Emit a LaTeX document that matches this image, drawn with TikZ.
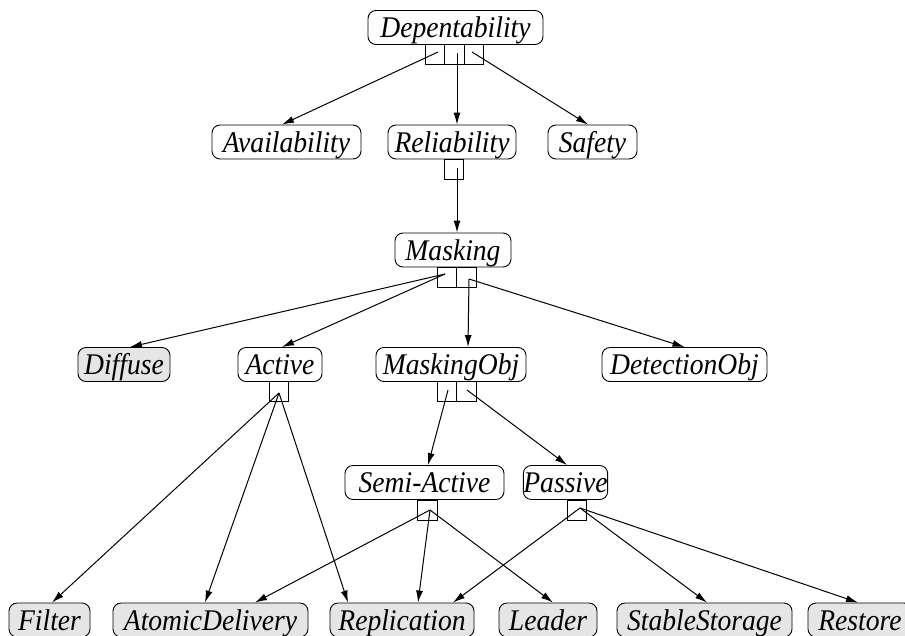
\documentclass[tikz,border=0pt]{standalone}
\usepackage{fontspec}
\setmainfont{Liberation Serif}[FakeStretch=0.92]
\usetikzlibrary{arrows.meta}
\begin{document}
\begin{tikzpicture}[x=1pt,y=-1pt,
  box/.style={draw, rounded corners=8pt, line width=0.9pt, inner sep=0pt, minimum height=34pt,
    font=\itshape\fontsize{30}{32}\selectfont, text height=27pt, text depth=7pt},
  leaf/.style={box, fill=black!10},
  port/.style={draw, line width=0.9pt, minimum width=19.5pt, minimum height=20pt, inner sep=0pt},
  arr/.style={line width=1pt, -{Latex[length=12pt,width=7pt]}}]
\useasboundingbox (0,0) rectangle (905,635);
% main nodes
\node[box, minimum width=175pt] (dep) at (455.5,27.5) {Depentability};
\node[box, minimum width=149pt] (avail) at (286.5,142) {Availability};
\node[box, minimum width=128pt] (reliab) at (452,142) {Reliability};
\node[box, minimum width=89pt] (safety) at (592.5,142) {Safety};
\node[box, minimum width=116pt] (masking) at (453,250) {Masking};
\node[leaf, minimum width=92pt] (diffuse) at (124,364.5) {Diffuse};
\node[box, minimum width=84pt] (active) at (280,364.5) {Active};
\node[box, minimum width=150pt] (mobj) at (451,364.5) {MaskingObj};
\node[box, minimum width=165pt] (dobj) at (684.5,364.5) {DetectionObj};
\node[box, minimum width=159pt] (semi) at (424.5,482.5) {Semi-Active};
\node[box, minimum width=81pt] (passive) at (565.5,482.5) {Passive};
\node[leaf, minimum width=81pt] (filter) at (49.5,620) {Filter};
\node[leaf, minimum width=195pt] (atomic) at (210.5,620) {AtomicDelivery};
\node[leaf, minimum width=144pt] (repl) at (402,620) {Replication};
\node[leaf, minimum width=98pt] (leader) at (548,620) {Leader};
\node[leaf, minimum width=175pt] (stable) at (704.5,620) {StableStorage};
\node[leaf, minimum width=104pt] (restore) at (860,620) {Restore};
% ports
\node[port] (dp1) at (435,54) {};
\node[port] (dp2) at (454.5,54) {};
\node[port] (dp3) at (474,54) {};
\node[port] (rp1) at (454,169) {};
\node[port] (mp1) at (447,277) {};
\node[port] (mp2) at (466.5,277) {};
\node[port] (ap1) at (279,391.5) {};
\node[port] (op1) at (447,391.5) {};
\node[port] (op2) at (466.5,391.5) {};
\node[port] (sp1) at (427.5,510) {};
\node[port] (pp1) at (577,510) {};
% start points
\coordinate (d1) at (438,52);
\coordinate (d2) at (457,53);
\coordinate (d3) at (472,52);
\coordinate (r1) at (457,168);
\coordinate (m1) at (445,274);
\coordinate (m2) at (469,279);
\coordinate (a1) at (279,393);
\coordinate (o1) at (448,390);
\coordinate (o2) at (467,390);
\coordinate (s1) at (430,510);
\coordinate (p1) at (580,508);
% connectors
\draw[arr] (d1) -- ([xshift=-4.5pt]avail.north);
\draw[arr] (d2) -- ([xshift=5pt]reliab.north);
\draw[arr] (d3) -- ([xshift=-4.5pt]safety.north);
\draw[arr] (r1) -- ([xshift=4pt]masking.north);
\draw[arr] (m1) -- ([xshift=6pt]diffuse.north);
\draw[arr] (m1) -- ([xshift=2pt]active.north);
\draw[arr] (m2) -- ([xshift=17pt]mobj.north);
\draw[arr] (m2) -- (dobj.north);
\draw[arr] (a1) -- ([xshift=2.5pt]filter.north);
\draw[arr] (a1) -- ([xshift=-5.5pt]atomic.north);
\draw[arr] (a1) -- ([xshift=-54pt]repl.north);
\draw[arr] (o1) -- ([xshift=3.5pt]semi.north);
\draw[arr] (o2) -- ([xshift=1.5pt]passive.north);
\draw[arr] (s1) -- ([xshift=44.5pt]atomic.north);
\draw[arr] (s1) -- ([xshift=16pt]repl.north);
\draw[arr] (s1) -- ([xshift=5pt]leader.north);
\draw[arr] (p1) -- ([xshift=51pt]repl.north);
\draw[arr] (p1) -- ([xshift=2.5pt]stable.north);
\draw[arr] (p1) -- ([xshift=-2pt]restore.north);
\end{tikzpicture}
\end{document}
